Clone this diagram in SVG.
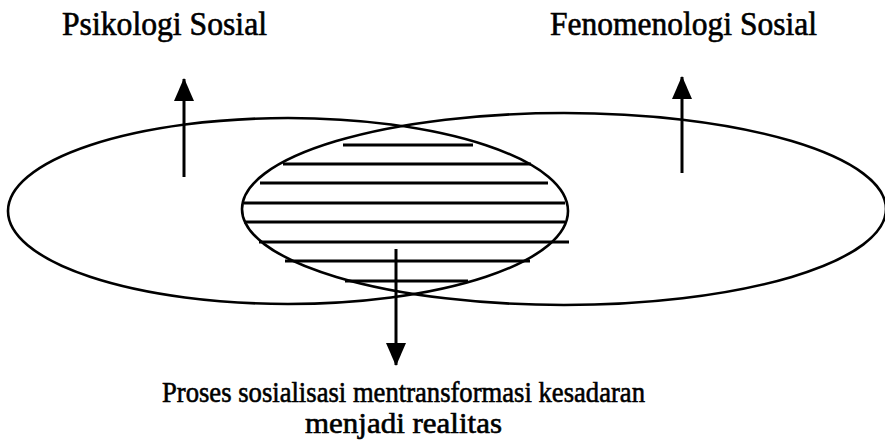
<svg xmlns="http://www.w3.org/2000/svg" width="885" height="448" viewBox="0 0 885 448">
<style>
.ring{fill:none;stroke:#000;stroke-width:2.6}
.hatch line{stroke:#000;stroke-width:3}
.lbl{font-family:"Liberation Serif","Times New Roman",serif;font-size:33px;fill:#000;stroke:#000;stroke-width:0.6}
.sub{font-size:29px}
.conn line{stroke:#000;stroke-width:3}
</style>
<defs>
<marker id="head" markerUnits="userSpaceOnUse" viewBox="0 0 23 20" markerWidth="23" markerHeight="20" refX="22" refY="10" orient="auto">
<path d="M0,0 L23,10 L0,20 Z" fill="#000"/>
</marker>
</defs>
<rect width="885" height="448" fill="#fff"/>
<g id="psikologi-sosial">
<ellipse class="ring" cx="288" cy="211" rx="280" ry="93"/>
<text class="lbl" x="62" y="35" textLength="205" lengthAdjust="spacingAndGlyphs">Psikologi Sosial</text>
</g>
<g id="fenomenologi-sosial">
<ellipse class="ring" cx="564" cy="209" rx="322" ry="96"/>
<text class="lbl" x="550" y="35" textLength="267" lengthAdjust="spacingAndGlyphs">Fenomenologi Sosial</text>
</g>
<g id="irisan" class="hatch">
<line x1="343" y1="145" x2="473" y2="145"/>
<line x1="283" y1="164" x2="531" y2="164"/>
<line x1="260" y1="183" x2="548" y2="183"/>
<line x1="244" y1="203" x2="565" y2="203"/>
<line x1="244" y1="222" x2="565" y2="222"/>
<line x1="259" y1="242" x2="569" y2="242"/>
<line x1="285" y1="261" x2="530" y2="261"/>
<line x1="345" y1="281" x2="468" y2="281"/>
</g>
<g id="realitas">
<text class="lbl sub" x="162" y="402" textLength="483" lengthAdjust="spacingAndGlyphs">Proses sosialisasi mentransformasi kesadaran</text>
<text class="lbl sub" x="305" y="433" textLength="197" lengthAdjust="spacingAndGlyphs">menjadi realitas</text>
</g>
<g id="connectors" class="conn">
<line x1="184" y1="177" x2="184" y2="79" marker-end="url(#head)"/>
<line x1="682" y1="173" x2="682" y2="77" marker-end="url(#head)"/>
<line x1="396" y1="249" x2="396" y2="365" marker-end="url(#head)"/>
</g>
</svg>
